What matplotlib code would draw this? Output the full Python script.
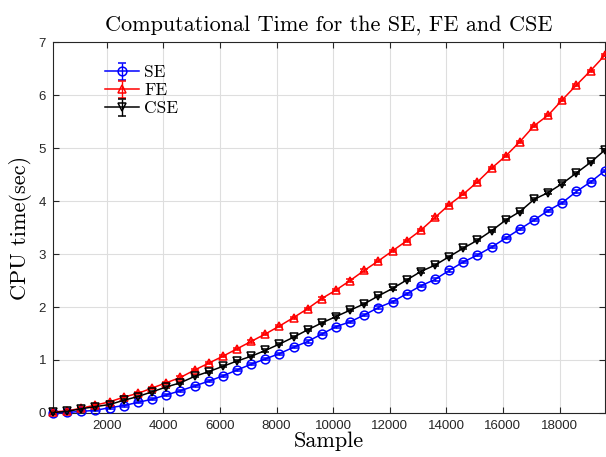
import matplotlib
matplotlib.use("Agg")
import matplotlib.pyplot as plt

# sample sizes
samples = [100, 600, 1100, 1600, 2100, 2600, 3100, 3600, 4100, 4600,
           5100, 5600, 6100, 6600, 7100, 7600, 8100, 8600, 9100, 9600,
           10100, 10600, 11100, 11600, 12100, 12600, 13100, 13600, 14100, 14600,
           15100, 15600, 16100, 16600, 17100, 17600, 18100, 18600, 19100, 19600]

se_time = [0.00, 0.01, 0.03, 0.05, 0.10, 0.14, 0.20, 0.26, 0.34, 0.42,
           0.51, 0.60, 0.70, 0.81, 0.92, 1.02, 1.12, 1.24, 1.35, 1.49,
           1.63, 1.72, 1.85, 1.99, 2.10, 2.25, 2.40, 2.52, 2.69, 2.85,
           2.98, 3.13, 3.30, 3.47, 3.64, 3.82, 3.97, 4.18, 4.36, 4.57]

fe_time = [0.02, 0.04, 0.09, 0.15, 0.21, 0.30, 0.37, 0.47, 0.57, 0.67,
           0.81, 0.94, 1.07, 1.21, 1.35, 1.49, 1.64, 1.80, 1.97, 2.16,
           2.32, 2.50, 2.69, 2.87, 3.06, 3.25, 3.45, 3.69, 3.93, 4.13,
           4.36, 4.62, 4.85, 5.12, 5.42, 5.62, 5.91, 6.19, 6.46, 6.75]

cse_time = [0.01, 0.03, 0.08, 0.12, 0.16, 0.24, 0.31, 0.40, 0.49, 0.57,
            0.69, 0.78, 0.88, 0.98, 1.07, 1.18, 1.30, 1.43, 1.57, 1.70,
            1.82, 1.94, 2.06, 2.21, 2.35, 2.51, 2.67, 2.79, 2.95, 3.11,
            3.26, 3.44, 3.64, 3.80, 4.03, 4.16, 4.33, 4.53, 4.73, 4.96]

# error bars are tiny in the original
err = 0.02

series = [("SE", se_time, "o", (0, 0, 1)),
          ("FE", fe_time, "^", (1, 0, 0)),
          ("CSE", cse_time, "v", (0, 0, 0))]

fig = plt.figure(figsize=(6.06, 4.57), dpi=100)
ax = fig.add_axes([0.0875, 0.0963, 0.9105, 0.8117])

for name, vals, mk, col in series:
    ax.errorbar(samples, vals, yerr=err, color=col, marker=mk, markersize=6.3,
                markerfacecolor="none", markeredgewidth=1.1, linewidth=1.1,
                capsize=3, elinewidth=1.0, label=name, clip_on=False, zorder=3)

ax.set_xlim(100, 19600)
ax.set_ylim(0, 7)
ax.set_xticks([2000, 4000, 6000, 8000, 10000, 12000, 14000, 16000, 18000])
ax.set_yticks([0, 1, 2, 3, 4, 5, 6, 7])

ax.grid(True, color=(0.87, 0.87, 0.87), linewidth=0.8)
ax.set_axisbelow(True)
ax.tick_params(direction="in", top=True, right=True, length=4, width=0.8,
               labelsize=9.5, pad=5, colors=(0.15, 0.15, 0.15),
               labelcolor=(0.15, 0.15, 0.15))
for lab in ax.get_xticklabels() + ax.get_yticklabels():
    lab.set_fontfamily("Liberation Sans")
for sp in ax.spines.values():
    sp.set_color((0.15, 0.15, 0.15))
    sp.set_linewidth(0.8)

ax.set_title("Computational Time for the SE, FE and CSE", fontfamily="cmr10",
             fontsize=16, pad=8)
ax.set_xlabel("Sample", fontfamily="cmr10", fontsize=16, labelpad=0)
ax.set_ylabel("CPU time(sec)", fontfamily="cmr10", fontsize=16, labelpad=5)

leg = ax.legend(loc="upper left", bbox_to_anchor=(0.065, 0.98), frameon=False,
                prop={"family": "cmr10", "size": 12.5}, handlelength=2.0,
                handletextpad=0.3, labelspacing=0.15)

fig.savefig("out.png", dpi=100)
